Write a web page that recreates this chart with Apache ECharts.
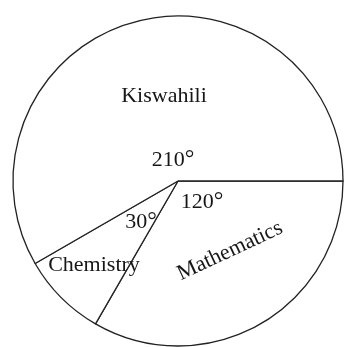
<!DOCTYPE html>
<html>
<head>
<meta charset="utf-8">
<script src="https://cdn.jsdelivr.net/npm/echarts@6/dist/echarts.min.js"></script>
<style>
  html, body { margin: 0; padding: 0; background: #fff; }
  #chart { width: 344px; height: 347px; }
</style>
</head>
<body>
<div id="chart"></div>
<script>
// Subjects and their sector angles (degrees), clockwise from 3 o'clock
const subjects = ['Mathematics', 'Chemistry', 'Kiswahili'];
const angles = [120, 30, 210];

// Where each subject's name and angle text sits
const nameSpots = [
  { x: 230, y: 251, rot: 25 },
  { x: 94, y: 265, rot: 0 },
  { x: 164, y: 96, rot: 0 }
];
const angleSpots = [
  { x: 202, y: 202 },
  { x: 141, y: 222 },
  { x: 173, y: 160 }
];

const FONT = '22px "Liberation Serif", "DejaVu Serif", serif';
const INK = '#161616';

const chart = echarts.init(document.getElementById('chart'), null, { renderer: 'canvas' });

const texts = [];
subjects.forEach((name, i) => {
  texts.push({
    type: 'text',
    x: nameSpots[i].x,
    y: nameSpots[i].y,
    rotation: nameSpots[i].rot * Math.PI / 180,
    style: {
      text: name,
      font: FONT,
      fill: INK,
      align: 'center',
      verticalAlign: 'middle'
    },
    z: 10
  });
  texts.push({
    type: 'text',
    x: angleSpots[i].x,
    y: angleSpots[i].y,
    style: {
      text: '{n|' + angles[i] + '}{d|°}',
      fill: INK,
      align: 'center',
      verticalAlign: 'middle',
      rich: {
        n: { font: FONT, fill: INK },
        d: { font: '24px "Liberation Serif", serif', fill: INK }
      }
    },
    z: 10
  });
});

chart.setOption({
  backgroundColor: '#ffffff',
  animation: false,
  series: [{
    type: 'pie',
    center: [178, 181],
    radius: [0, 165],
    startAngle: 0,
    clockwise: true,
    silent: true,
    label: { show: false },
    labelLine: { show: false },
    itemStyle: {
      color: '#ffffff',
      borderColor: '#222222',
      borderWidth: 1.3
    },
    data: subjects.map((name, i) => ({ name: name, value: angles[i] }))
  }],
  graphic: texts
});
</script>
</body>
</html>
